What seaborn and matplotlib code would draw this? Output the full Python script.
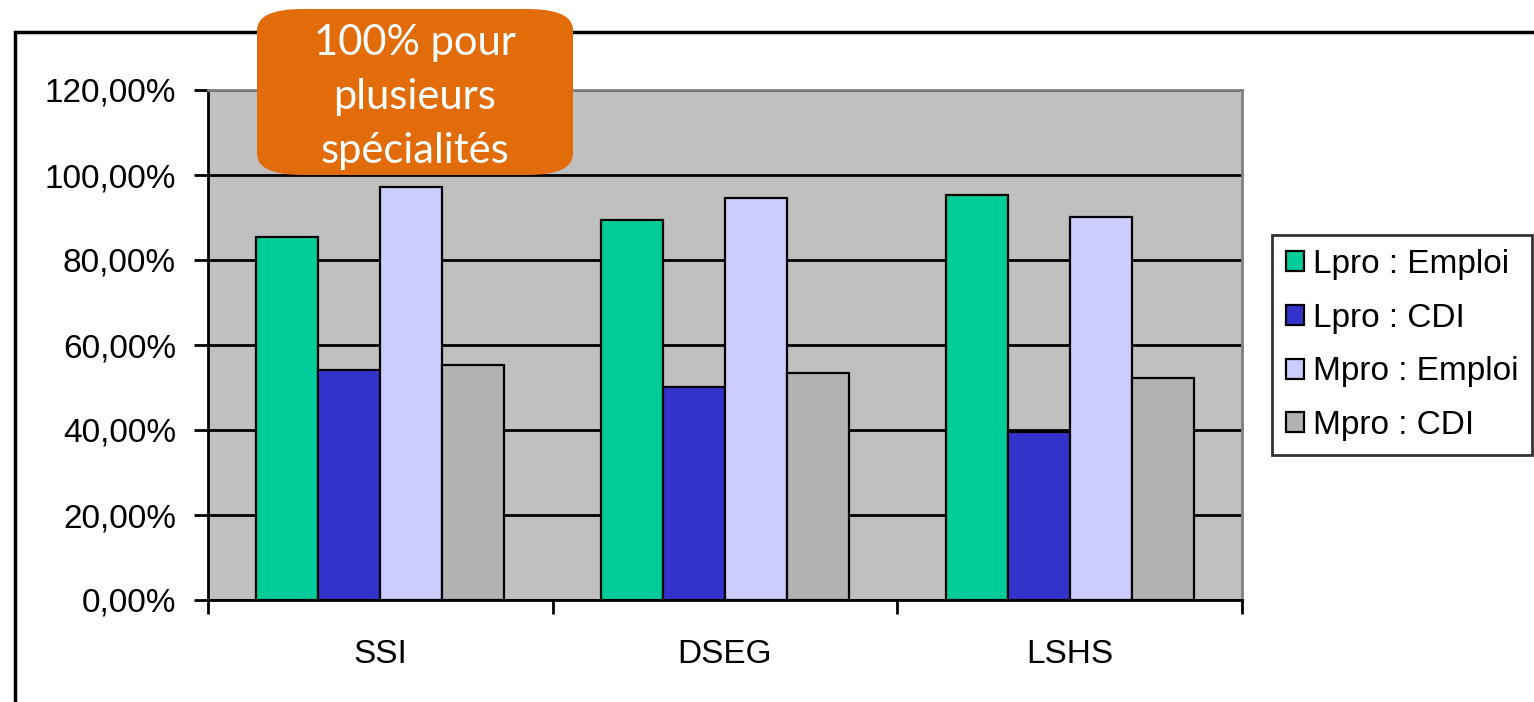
import pandas as pd
import numpy as np
import seaborn as sns
import matplotlib.pyplot as plt
from matplotlib.patches import Rectangle, FancyBboxPatch
from matplotlib.ticker import FuncFormatter

# categories and series
CATEGORIES = ['SSI', 'DSEG', 'LSHS']
SERIES = ['Lpro : Emploi', 'Lpro : CDI', 'Mpro : Emploi', 'Mpro : CDI']

# values (fractions)
LPRO_EMPLOI = [0.854, 0.894, 0.953]
LPRO_CDI = [0.541, 0.501, 0.395]
MPRO_EMPLOI = [0.972, 0.946, 0.901]
MPRO_CDI = [0.553, 0.534, 0.522]

COLORS = ['#00CC99', '#3333CC', '#CCCCFF', '#B2B2B2']
Y_TICKS = [0, 0.2, 0.4, 0.6, 0.8, 1.0, 1.2]
NOTE = '100% pour\nplusieurs\nspécialités'

if __name__ == '__main__':
    rows = []
    for name, vals in zip(SERIES, [LPRO_EMPLOI, LPRO_CDI, MPRO_EMPLOI, MPRO_CDI]):
        for cat, v in zip(CATEGORIES, vals):
            rows.append({'cat': cat, 'series': name, 'value': v})
    df = pd.DataFrame(rows)

    sns.set_style('white')
    plt.rcParams['font.family'] = ['Liberation Sans', 'DejaVu Sans']
    plt.rcParams['text.color'] = 'black'
    plt.rcParams['xtick.color'] = 'black'
    plt.rcParams['ytick.color'] = 'black'

    fig = plt.figure(figsize=(15.34, 7.02), dpi=100)
    ax = fig.add_axes([208 / 1534, 1 - 600 / 702, (1242 - 208) / 1534, (600 - 90) / 702])
    ax.set_facecolor('#C0C0C0')

    sns.barplot(data=df, x='cat', y='value', hue='series', order=CATEGORIES,
                hue_order=SERIES, palette=COLORS, saturation=1, width=0.72, gap=0,
                edgecolor='black', linewidth=1.6, ax=ax, legend=True, zorder=3)

    # gridlines
    ax.set_axisbelow(True)
    ax.yaxis.grid(True, color='black', linewidth=2)
    ax.xaxis.grid(False)

    ax.set_ylim(0, 1.2)
    ax.set_xlim(-0.5, 2.5)
    ax.set_yticks(Y_TICKS)
    ax.yaxis.set_major_formatter(FuncFormatter(lambda v, p: f'{v * 100:.2f}%'.replace('.', ',')))
    ax.tick_params(axis='y', length=10, width=2, color='black', labelsize=24, pad=13, left=True)
    ax.set_xticks(range(len(CATEGORIES)))
    ax.set_xticklabels(CATEGORIES)
    ax.tick_params(axis='x', which='major', length=0, labelsize=24, pad=28)
    ax.set_xticks([-0.5, 0.5, 1.5, 2.5], minor=True)
    ax.tick_params(axis='x', which='minor', length=10, width=2, color='black', bottom=True)
    ax.set_xlabel('')
    ax.set_ylabel('')

    for side in ['left', 'bottom']:
        ax.spines[side].set_color('black')
        ax.spines[side].set_linewidth(2)
    for side in ['top', 'right']:
        ax.spines[side].set_color('#808080')
        ax.spines[side].set_linewidth(2)

    # legend
    handles, labels = ax.get_legend_handles_labels()
    leg = ax.legend(handles, labels, loc='upper left',
                    bbox_to_anchor=(1272 / 1534, 1 - 235 / 702),
                    bbox_transform=fig.transFigure, fontsize=24, frameon=True,
                    fancybox=False, edgecolor='black', handlelength=0.55,
                    handleheight=0.55, handletextpad=0.25, labelspacing=0.68,
                    borderpad=0.42, borderaxespad=0)
    leg.get_frame().set_linewidth(2)

    # outer chart frame
    fig.add_artist(Rectangle((15 / 1534, -0.2), 1.2, 1.2 - 32 / 702,
                             transform=fig.transFigure, fill=False,
                             edgecolor='black', linewidth=2.5, zorder=1))

    # orange note
    fig.add_artist(FancyBboxPatch((257 / 1534, 1 - 175 / 702), (573 - 257) / 1534,
                                  (175 - 9) / 702, boxstyle='round,pad=0,rounding_size=0.03',
                                  transform=fig.transFigure, facecolor='#E36C0A',
                                  edgecolor='none', zorder=5))
    fig.text(415 / 1534, 1 - 97 / 702, NOTE, ha='center', va='center', color='white',
             fontsize=30, family=['Lato', 'DejaVu Sans'], linespacing=1.5, zorder=6)

    plt.savefig('out.png', dpi=100)
